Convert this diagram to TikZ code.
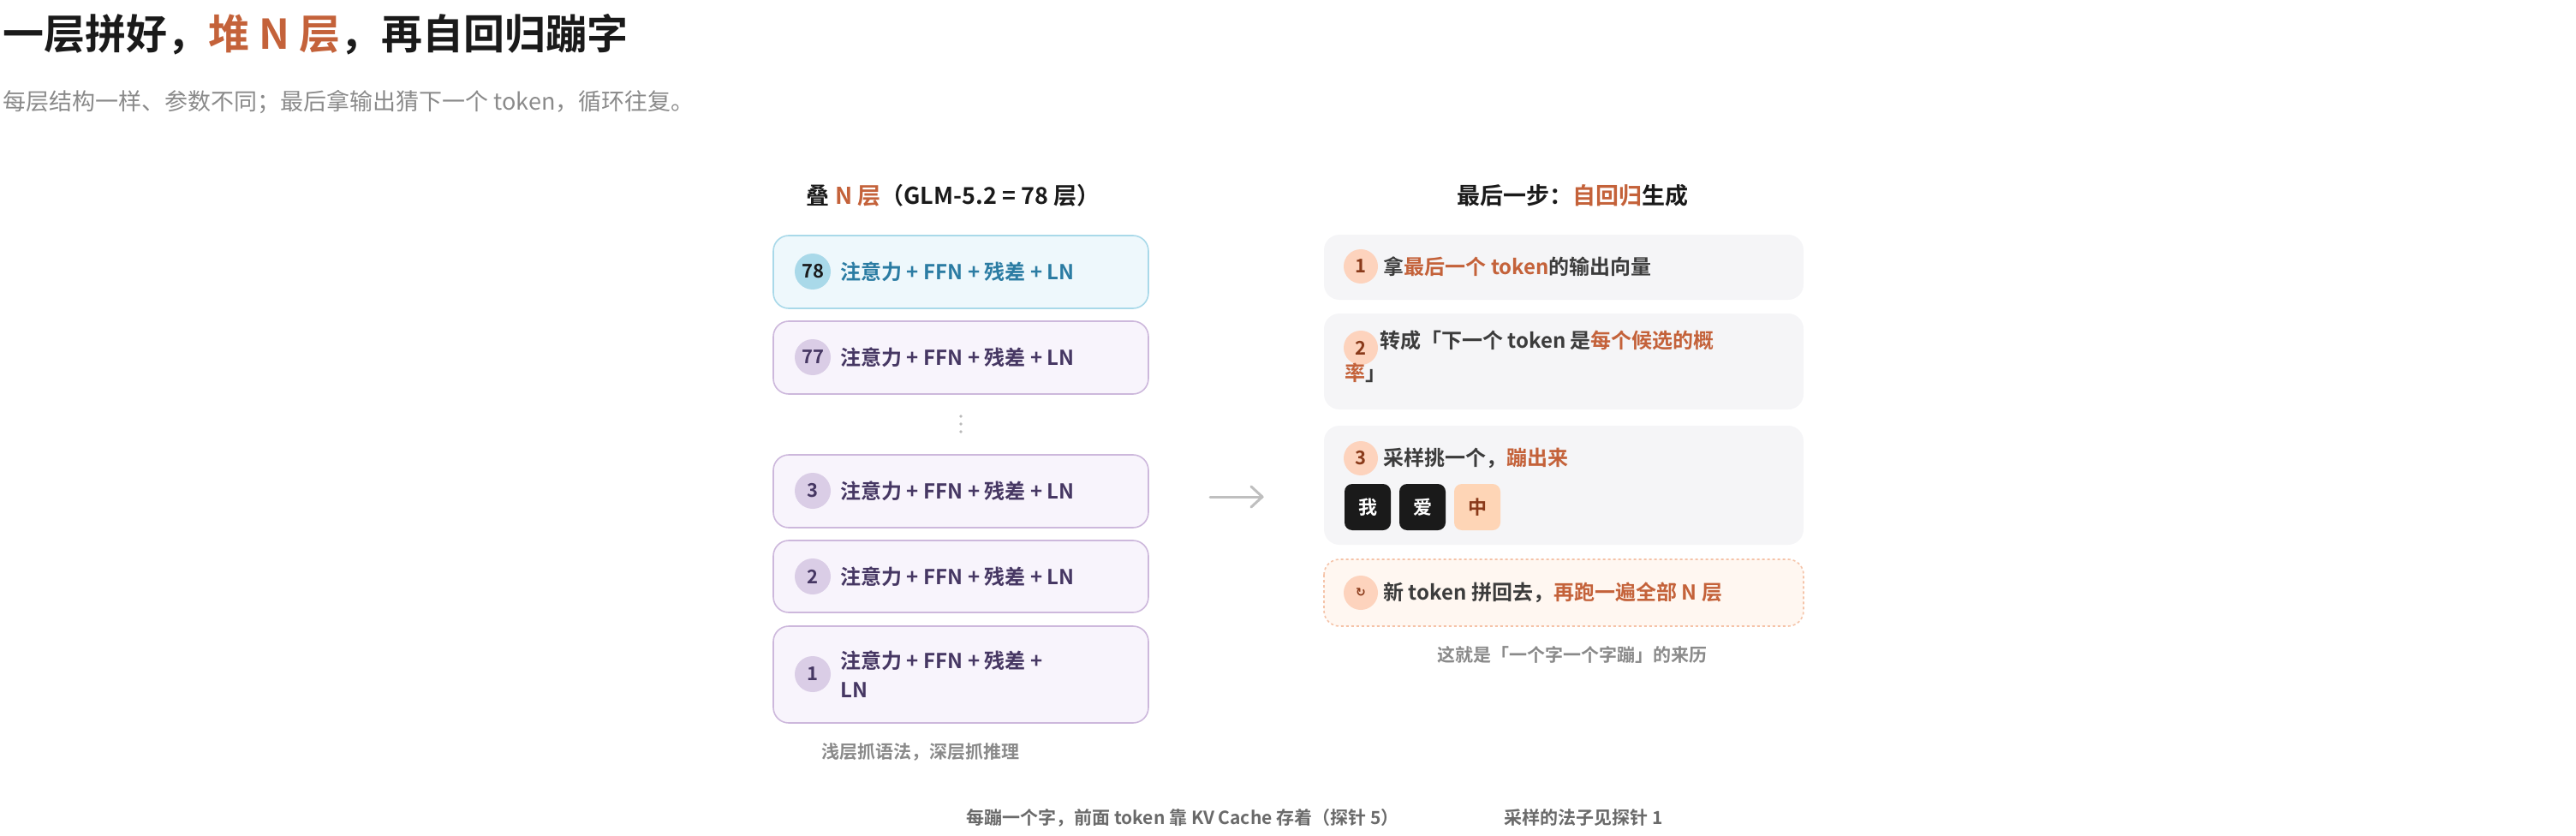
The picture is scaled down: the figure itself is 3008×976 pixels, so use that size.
\documentclass[tikz,border=0pt]{standalone}
\usepackage{fontspec}
\setmainfont{Noto Sans CJK SC}[BoldFont={Noto Sans CJK SC Bold}]
\newfontfamily\symfont{DejaVu Sans}
\usetikzlibrary{calc}
\definecolor{acc}{HTML}{C4623A}
\definecolor{ink}{HTML}{1A1A1A}
\definecolor{grayt}{HTML}{8A8A8A}
\definecolor{bluet}{HTML}{2B7CA3}
\definecolor{bluef}{HTML}{EEF8FC}
\definecolor{blueb}{HTML}{A9D9E9}
\definecolor{purt}{HTML}{463763}
\definecolor{purf}{HTML}{F8F4FC}
\definecolor{purb}{HTML}{CDB8DC}
\definecolor{purc}{HTML}{DACDE6}
\definecolor{stepf}{HTML}{F5F5F7}
\definecolor{orc}{HTML}{FDD3BD}
\definecolor{ort}{HTML}{8A3A1A}
\definecolor{dashf}{HTML}{FFF7F1}
\definecolor{dashb}{HTML}{F5C3A8}
\begin{document}
\begin{tikzpicture}[x=1pt,y=-1pt,
  layer/.style={draw=purb,fill=purf,line width=1.6pt,rounded corners=18pt},
  lnum/.style={circle,fill=purc,minimum size=42pt,inner sep=0pt,font=\fontsize{22}{22}\selectfont\bfseries,text=purt},
  ltxt/.style={anchor=west,font=\fontsize{24}{34}\selectfont\bfseries,text=purt,align=left},
  stepbox/.style={fill=stepf,rounded corners=18pt},
  snum/.style={circle,fill=orc,minimum size=40pt,inner sep=0pt,font=\fontsize{22}{22}\selectfont\bfseries,text=ort},
  stxt/.style={anchor=west,font=\fontsize{24}{38}\selectfont\bfseries,text=ink!85,align=left},
  capt/.style={font=\fontsize{21}{21}\selectfont\bfseries,text=grayt},
  tok/.style={rounded corners=9pt,minimum size=54pt,inner sep=0pt,font=\fontsize{22}{22}\selectfont\bfseries}]
\useasboundingbox (0,0) rectangle (3008,976);
\node[anchor=west,font=\fontsize{48}{48}\selectfont\bfseries,text=ink] (title) at (0,40) {一层拼好，\textcolor{acc}{堆 N 层}，再自回归蹦字};
\node[anchor=west,font=\fontsize{27}{27}\selectfont,text=grayt] (sub) at (0,119) {每层结构一样、参数不同；最后拿输出猜下一个 token，循环往复。};
% left
\node[font=\fontsize{27}{27}\selectfont\bfseries,text=ink] (lh) at (1113,228) {叠 \textcolor{acc}{N 层}（GLM-5.2 = 78 层）};
\draw[layer,draw=blueb,fill=bluef] (903,275) rectangle (1341,360);
\node[lnum,fill=blueb,text=ink] (n78) at (949,317) {78};
\node[ltxt,text=bluet] (t78) at (978,317) {注意力 + FFN + 残差 + LN};
\draw[layer] (903,375) rectangle (1341,460);
\node[lnum] (n77) at (949,417) {77};
\node[ltxt] (t77) at (978,417) {注意力 + FFN + 残差 + LN};
\foreach \yy in {486,495,504}\fill[grayt!60] (1122,\yy) circle (1.8pt);
\draw[layer] (903,531) rectangle (1341,616);
\node[lnum] (n3) at (949,573) {3};
\node[ltxt] (t3) at (978,573) {注意力 + FFN + 残差 + LN};
\draw[layer] (903,631) rectangle (1341,715);
\node[lnum] (n2) at (949,673) {2};
\node[ltxt] (t2) at (978,673) {注意力 + FFN + 残差 + LN};
\draw[layer] (903,731) rectangle (1341,844);
\node[lnum] (n1) at (949,787) {1};
\node[ltxt] (t1) at (978,787) {注意力 + FFN + 残差 +\\LN};
\node[capt] (lc) at (1075,878) {浅层抓语法，深层抓推理};
% arrow
\coordinate (a1) at (1413,580); \coordinate (a2) at (1474,580);
\draw[grayt!55,line width=3pt,line cap=round] (a1) -- (a2);
\draw[grayt!55,line width=3pt,line cap=round,line join=round] ($(a2)+(-13,-12)$) -- (a2) -- ($(a2)+(-13,12)$);
% right
\node[font=\fontsize{27}{27}\selectfont\bfseries,text=ink] (rh) at (1836,228) {最后一步：\textcolor{acc}{自回归}生成};
\fill[stepbox] (1546,274) rectangle (2106,350);
\node[snum] (s1) at (1589,311) {1};
\node[stxt] (r1) at (1612,311) {拿\textcolor{acc}{最后一个 token}的输出向量};
\fill[stepbox] (1546,366) rectangle (2106,478);
\node[snum] (s2) at (1589,406) {2};
\node[stxt,anchor=north west,inner sep=0pt] (r2) at (1570,386) {\hspace{41pt}转成「下一个 token 是\textcolor{acc}{每个候选的概}\\\textcolor{acc}{率}」};
\fill[stepbox] (1546,497) rectangle (2106,636);
\node[snum] (s3) at (1589,535) {3};
\node[stxt] (r3) at (1612,535) {采样挑一个，\textcolor{acc}{蹦出来}};
\node[tok,fill=ink,text=white] (w1) at (1597,592) {我};
\node[tok,fill=ink,text=white] (w2) at (1661,592) {爱};
\node[tok,fill=orc!80!orange!70,text=ort] (w3) at (1725,592) {中};
\draw[dashb,fill=dashf,dashed,line width=1.6pt,rounded corners=18pt] (1546,653) rectangle (2106,731);
\node[snum,font=\fontsize{14}{14}\selectfont\symfont\bfseries] (s4) at (1589,692) {↻};
\node[stxt] (r4) at (1612,692) {新 token 拼回去，\textcolor{acc}{再跑一遍全部 N 层}};
\node[capt] (rc) at (1836,764) {这就是「一个字一个字蹦」的来历};
% bottom
\node[capt,text=ink!65] (b1) at (1381,955) {每蹦一个字，前面 token 靠 KV Cache 存着（探针 5）};
\node[capt,text=ink!65] (b2) at (1849,955) {采样的法子见探针 1};
\end{tikzpicture}
\end{document}
